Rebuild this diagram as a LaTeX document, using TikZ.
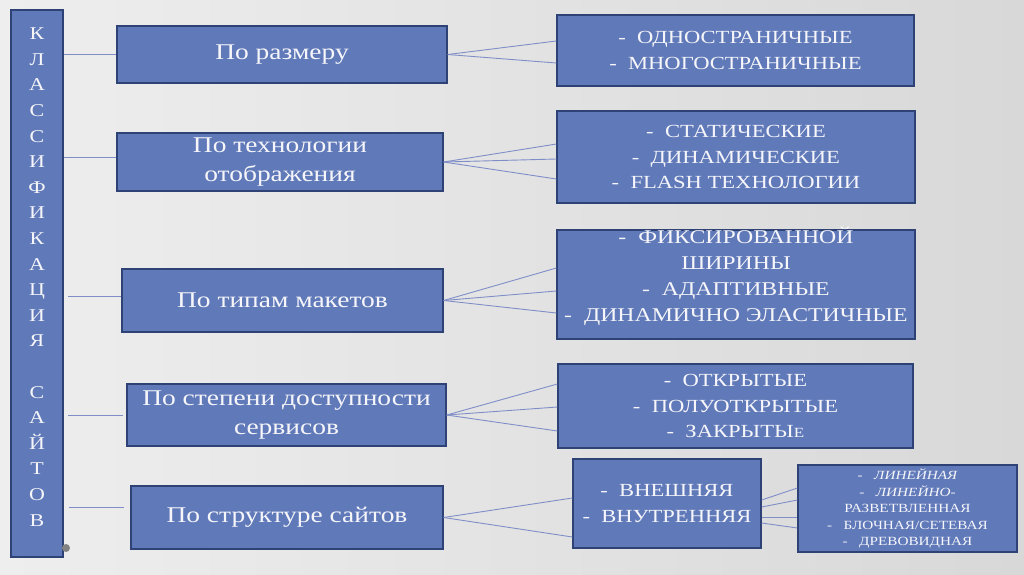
\documentclass[tikz,border=0pt]{standalone}
\usepackage{fontspec}
\setmainfont{Liberation Serif}[FakeStretch=1.22]
\usetikzlibrary{calc}
\definecolor{boxfill}{RGB}{96,121,185}
\definecolor{boxline}{RGB}{46,66,118}
\definecolor{conn}{RGB}{128,142,200}
\definecolor{txt}{RGB}{246,246,250}
\definecolor{bgedge}{RGB}{216,216,216}
\definecolor{bgleft}{RGB}{238,238,238}
\definecolor{dotgray}{RGB}{130,130,130}
\tikzset{
  cbox/.style={draw=boxline, fill=boxfill, line width=1.3pt, inner sep=0pt, text=txt, align=center},
  mainfont/.style={font=\fontsize{22.5}{29}\selectfont},
  listfont/.style={font=\fontsize{18.5}{25.5}\selectfont},
  biglistfont/.style={font=\fontsize{19.5}{26}\selectfont},
  smallfont/.style={font=\fontsize{12.5}{16.5}\selectfont},
  vertfont/.style={font=\fontsize{18}{25.6}\selectfont},
  link/.style={draw=conn, line width=0.9pt},
}
\begin{document}
\begin{tikzpicture}[x=1pt,y=-1pt]
\shade[left color=bgleft, middle color=white, right color=bgedge] (0,0) rectangle (1024,574);
\useasboundingbox (0,0) rectangle (1024,574);

% left vertical box
\node[cbox, minimum width=52pt, minimum height=547pt] (cls) at (37,283.5) {};
\node[vertfont, text=txt, align=center, inner sep=0pt] (clstext) at (37,277)
  {К\\Л\\А\\С\\С\\И\\Ф\\И\\К\\А\\Ц\\И\\Я\\~\\С\\А\\Й\\Т\\О\\В};
\fill[dotgray] (66,548) circle (4pt);

% category boxes
\node[cbox, mainfont, minimum width=330pt, minimum height=57pt] (k1) at (282,54.5) {По размеру};
\node[cbox, mainfont, minimum width=326pt, minimum height=58pt] (k2) at (280,162) {По технологии\\отображения};
\node[cbox, mainfont, minimum width=321pt, minimum height=63pt] (k3) at (282.5,300.5) {По типам макетов};
\node[cbox, mainfont, minimum width=319pt, minimum height=62pt] (k4) at (286.5,415) {По степени доступности\\сервисов};
\node[cbox, mainfont, minimum width=312pt, minimum height=63pt] (k5) at (287,517.5) {По структуре сайтов};

% right boxes
\node[cbox, listfont, minimum width=357pt, minimum height=71pt] (a) at (735.5,50.5)
  {-\ \ ОДНОСТРАНИЧНЫЕ\\-\ \ МНОГОСТРАНИЧНЫЕ};
\node[cbox, listfont, minimum width=358pt, minimum height=92pt] (b) at (736,157)
  {-\ \ СТАТИЧЕСКИЕ\\-\ \ ДИНАМИЧЕСКИЕ\\-\ \ FLASH ТЕХНОЛОГИИ};
\node[cbox, minimum width=358pt, minimum height=109pt] (c) at (736,284.5) {};
\node[biglistfont, text=txt, align=center, inner sep=0pt] (ctext) at (736,276)
  {-\ \ ФИКСИРОВАННОЙ\\ШИРИНЫ\\-\ \ АДАПТИВНЫЕ\\-\ \ ДИНАМИЧНО ЭЛАСТИЧНЫЕ};
\node[cbox, listfont, minimum width=355pt, minimum height=84pt] (d) at (735.5,406)
  {-\ \ ОТКРЫТЫЕ\\-\ \ ПОЛУОТКРЫТЫЕ\\-\ \ ЗАКРЫТЫ{\fontsize{14}{14}\selectfont Е}};
\node[cbox, listfont, minimum width=188pt, minimum height=89pt] (e) at (667,503.5)
  {-\ \ ВНЕШНЯЯ\\-\ \ ВНУТРЕННЯЯ};
\node[cbox, smallfont, minimum width=219pt, minimum height=87pt] (f) at (907.5,508.5)
  {{\itshape -\ \ \ ЛИНЕЙНАЯ}\\{\itshape -\ \ \ ЛИНЕЙНО-}\\РАЗВЕТВЛЕННАЯ\\-\ \ \ БЛОЧНАЯ/СЕТЕВАЯ\\-\ \ \ ДРЕВОВИДНАЯ};

% connectors from the vertical box
\coordinate (s3) at (68,296);
\coordinate (s4) at (68,415);
\coordinate (t4) at (123,415);
\coordinate (s5) at (69,507);
\coordinate (t5) at (124,507);
\draw[link] (cls.east |- 0,54) -- (k1.west |- 0,54);
\draw[link] (cls.east |- 0,157) -- (k2.west |- 0,157);
\draw[link] (s3) -- (k3.west |- s3);
\draw[link] (s4) -- (t4);
\draw[link] (s5) -- (t5);

% fans
\draw[link] (k1.east) -- (a.west |- 0,41);
\draw[link] (k1.east) -- (a.west |- 0,63);
\draw[link] (k2.east) -- (b.west |- 0,144);
\draw[link] (k2.east) -- (b.west |- 0,159);
\draw[link] (k2.east) -- (b.west |- 0,179);
\draw[link] (k3.east) -- (c.west |- 0,268);
\draw[link] (k3.east) -- (c.west |- 0,291);
\draw[link] (k3.east) -- (c.west |- 0,313);
\draw[link] (k4.east) -- (d.west |- 0,384);
\draw[link] (k4.east) -- (d.west |- 0,407);
\draw[link] (k4.east) -- (d.west |- 0,431);
\draw[link] (k5.east) -- (e.west |- 0,498);
\draw[link] (k5.east) -- (e.west |- 0,537);
\draw[link] (e.east |- 0,500) -- (f.west |- 0,488);
\draw[link] (e.east |- 0,507) -- (f.west |- 0,500);
\draw[link] (e.east |- 0,517) -- (f.west |- 0,517);
\draw[link] (e.east |- 0,523) -- (f.west |- 0,528);
\end{tikzpicture}
\end{document}
